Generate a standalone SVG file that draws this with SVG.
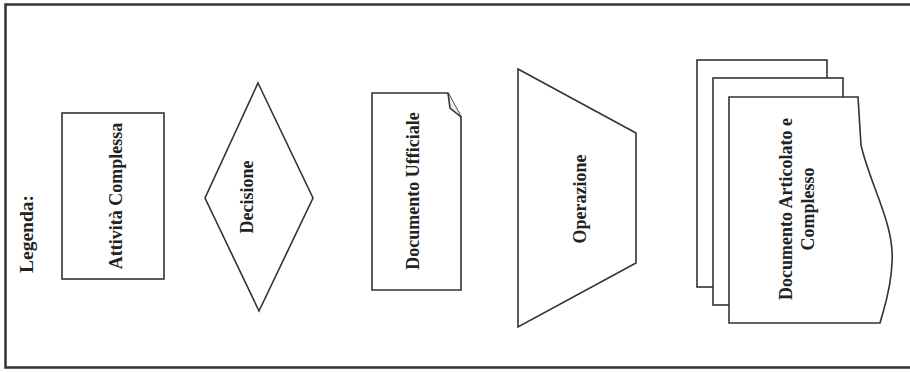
<svg xmlns="http://www.w3.org/2000/svg" width="910" height="373" viewBox="0 0 910 373">
<style>
.s{fill:#fff;stroke:#333;stroke-width:1.6;stroke-linejoin:miter}
.t{font-family:"Liberation Serif","Times New Roman",serif;font-weight:bold;font-size:18px;fill:#222;text-anchor:middle;dominant-baseline:central}
.f{fill:none;stroke:#333;stroke-width:2.5}
</style>
<rect width="910" height="373" fill="#fff"/>
<g id="frame">
<path class="f" d="M910,4.5 H5.5 V367.5 H910"/>
<text class="t" style="font-size:19.5px" transform="translate(26,234) rotate(-90)">Legenda:</text>
</g>
<g id="attivita">
<rect class="s" x="62" y="113" width="102" height="166"/>
<text class="t" transform="translate(116,196) rotate(-90)">Attività Complessa</text>
</g>
<g id="decisione">
<polygon class="s" points="258,83 313,198 259,311 205,198"/>
<text class="t" transform="translate(247,197) rotate(-90)">Decisione</text>
</g>
<g id="documento-ufficiale">
<path class="s" d="M372,93 H448 L461,117 V290 H372 Z"/>
<path class="s" d="M448,93 L450,108 L461,117" style="fill:#eee"/>
<text class="t" transform="translate(413,191) rotate(-90)">Documento Ufficiale</text>
</g>
<g id="operazione">
<polygon class="s" points="518,69 636,133 636,263 518,327"/>
<text class="t" transform="translate(580,199) rotate(-90)">Operazione</text>
</g>
<g id="documento-articolato">
<rect class="s" x="697" y="60" width="130" height="227"/>
<rect class="s" x="713" y="78" width="130" height="227"/>
<path class="s" d="M729,97 H858 L861,145 C870,185 895,225 892,263 C891,290 884,308 880,323 H729 Z"/>
<text class="t" transform="translate(786,209) rotate(-90)">Documento Articolato e</text>
<text class="t" transform="translate(808,209) rotate(-90)">Complesso</text>
</g>
<g id="connectors"></g>
</svg>
